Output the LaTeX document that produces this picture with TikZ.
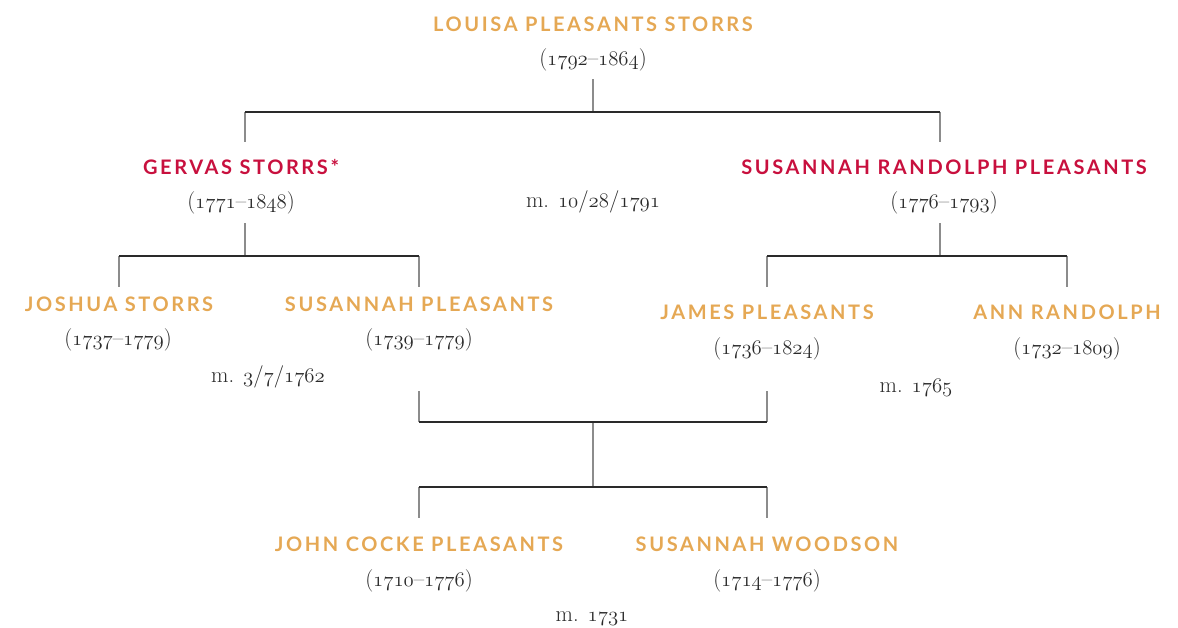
\documentclass[tikz,border=0pt]{standalone}
\usepackage{fontspec}
\newfontfamily\namefont[LetterSpace=13]{Lato}
\definecolor{gold}{HTML}{E5A854}
\definecolor{crimson}{HTML}{C8103E}
\definecolor{ink}{HTML}{2A2A2A}
\newcommand\osf[1]{{\usefont{OML}{cmm}{m}{it}#1}}
\tikzset{
  person/.style={anchor=base,inner sep=0pt,text=gold,font={\fontsize{20}{24}\namefont\bfseries}},
  redperson/.style={person,text=crimson},
  life/.style={anchor=base,inner sep=0pt,text=ink,font={\fontsize{22.5}{26}\selectfont}},
  wed/.style={life},
  tick/.style={draw=black!45,line width=1.2pt},
  bar/.style={draw=ink,line width=1.8pt}
}
\begin{document}
\begin{tikzpicture}[x=1pt,y=-1pt]
  \useasboundingbox (0,0) rectangle (1178,627);
  % people and marriages
  \node[person] (louisa) at (593,31) {LOUISA PLEASANTS STORRS};
  \node[life] (louisaD) at (593,65) {(\osf{1792}–\osf{1864})};
  \node[redperson] (gervas) at (241,174) {GERVAS STORRS*};
  \node[life] (gervasD) at (241,208) {(\osf{1771}–\osf{1848})};
  \node[redperson] (susanR) at (944,174) {SUSANNAH RANDOLPH PLEASANTS};
  \node[life] (susanRD) at (944,208) {(\osf{1776}–\osf{1793})};
  \node[wed] (m1) at (593,207) {m. \osf{10}/\osf{28}/\osf{1791}};
  \node[person] (joshua) at (119,311) {JOSHUA STORRS};
  \node[life] (joshuaD) at (118,345) {(\osf{1737}–\osf{1779})};
  \node[person] (susanP) at (419,311) {SUSANNAH PLEASANTS};
  \node[life] (susanPD) at (419,345) {(\osf{1739}–\osf{1779})};
  \node[wed] (m2) at (268,382) {m. \osf{3}/\osf{7}/\osf{1762}};
  \node[person] (james) at (767,319) {JAMES PLEASANTS};
  \node[life] (jamesD) at (767,354) {(\osf{1736}–\osf{1824})};
  \node[person] (ann) at (1067,319) {ANN RANDOLPH};
  \node[life] (annD) at (1067,354) {(\osf{1732}–\osf{1809})};
  \node[wed] (m3) at (916,392) {m. \osf{1765}};
  \node[person] (john) at (419,551) {JOHN COCKE PLEASANTS};
  \node[life] (johnD) at (419,586) {(\osf{1710}–\osf{1776})};
  \node[person] (woodson) at (767,551) {SUSANNAH WOODSON};
  \node[life] (woodsonD) at (767,586) {(\osf{1714}–\osf{1776})};
  \node[wed] (m4) at (592,621) {m. \osf{1731}};
  % fork points
  \coordinate (a0) at (593,79);  \coordinate (a1) at (593,112);
  \coordinate (a2) at (245,112); \coordinate (a3) at (940,112);
  \coordinate (a4) at (245,142); \coordinate (a5) at (940,142);
  \coordinate (b0) at (245,223); \coordinate (b1) at (245,256);
  \coordinate (b2) at (119,256); \coordinate (b3) at (419,256);
  \coordinate (b4) at (119,287); \coordinate (b5) at (419,287);
  \coordinate (c0) at (940,223); \coordinate (c1) at (940,256);
  \coordinate (c2) at (767,256); \coordinate (c3) at (1067,256);
  \coordinate (c4) at (767,287); \coordinate (c5) at (1067,287);
  \coordinate (d0) at (419,391); \coordinate (d1) at (767,391);
  \coordinate (d2) at (419,422); \coordinate (d3) at (767,422);
  \coordinate (d4) at (593,422); \coordinate (d5) at (593,487);
  \coordinate (d6) at (419,487); \coordinate (d7) at (767,487);
  \coordinate (d8) at (419,518); \coordinate (d9) at (767,518);
  % connectors
  \draw[tick] (a0) -- (a1) (a2) -- (a4) (a3) -- (a5);
  \draw[bar] (a2) -- (a3);
  \draw[tick] (b0) -- (b1) (b2) -- (b4) (b3) -- (b5);
  \draw[bar] (b2) -- (b3);
  \draw[tick] (c0) -- (c1) (c2) -- (c4) (c3) -- (c5);
  \draw[bar] (c2) -- (c3);
  \draw[tick] (d0) -- (d2) (d1) -- (d3) (d4) -- (d5) (d6) -- (d8) (d7) -- (d9);
  \draw[bar] (d2) -- (d3) (d6) -- (d7);
\end{tikzpicture}
\end{document}
